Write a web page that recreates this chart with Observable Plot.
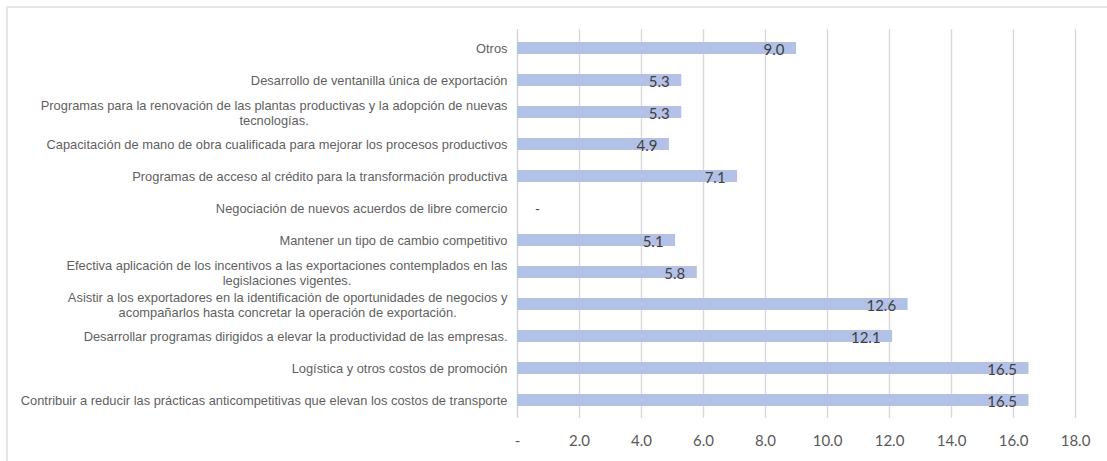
<!DOCTYPE html>
<html>
<head>
<meta charset="utf-8">
<script src="https://cdn.jsdelivr.net/npm/d3@7"></script>
<script src="https://cdn.jsdelivr.net/npm/@observablehq/plot@0.6"></script>
<style>
  html, body { margin: 0; padding: 0; background: #fff; }
  #wrap { position: relative; width: 1107px; height: 461px; overflow: hidden; }
  #frame { position: absolute; left: 6px; top: 6px; right: 0; bottom: 0;
           border-top: 2px solid #e6e6e6; border-left: 2px solid #e6e6e6; pointer-events: none; }
  #chart { position: absolute; left: 0; top: 0; }
</style>
</head>
<body>
<div id="wrap"><div id="chart"></div><div id="frame"></div></div>
<script>
const categories = [
  "Otros",
  "Desarrollo de ventanilla única de exportación",
  "Programas para la renovación de las plantas productivas y la adopción de nuevas\ntecnologías.",
  "Capacitación de mano de obra cualificada para mejorar los procesos productivos",
  "Programas de acceso al crédito para la transformación productiva",
  "Negociación de nuevos acuerdos de libre comercio",
  "Mantener un tipo de cambio competitivo",
  "Efectiva aplicación de los incentivos a las exportaciones contemplados en las\nlegislaciones vigentes.",
  "Asistir a los exportadores en la identificación de oportunidades de negocios y\nacompañarlos hasta concretar la operación de exportación.",
  "Desarrollar programas dirigidos a elevar la productividad de las empresas.",
  "Logística y otros costos de promoción",
  "Contribuir a reducir las prácticas anticompetitivas que elevan los costos de transporte"
];
const values = [9.0, 5.3, 5.3, 4.9, 7.1, 0, 5.1, 5.8, 12.6, 12.1, 16.5, 16.5];
const xTicks = [0, 2, 4, 6, 8, 10, 12, 14, 16, 18];

const data = categories.map((c, i) => ({cat: c, value: values[i]}));

const catFont = "Liberation Sans";
const ctx = document.createElement("canvas").getContext("2d");
ctx.font = `11px "${catFont}"`;
// size chosen so that the longest label spans the same width as in the reference (~487px)
const catSize = Math.min(13.2, 11 * 487 / ctx.measureText(categories[11]).width);
ctx.font = `${catSize}px "${catFont}"`;
const lineW = s => Math.max(...s.split("\n").map(l => ctx.measureText(l).width));

const single = data.filter(d => !d.cat.includes("\n"));
const multi = data.filter(d => d.cat.includes("\n"));
const gap = 10;

const catStyle = {fontSize: catSize, fontFamily: catFont, fill: "#5f5f5f"};

const marks = [
  Plot.gridX(xTicks.filter(d => d > 0), {stroke: "#d9d9d9", strokeOpacity: 1, strokeWidth: 1.4}),
  Plot.ruleX([0], {stroke: "#d4d4d4", strokeWidth: 1.4}),
  Plot.barX(data, {x: "value", y: "cat", fill: "#b4c1e6"}),
  Plot.text(data.filter(d => d.value > 0), {
    x: "value", y: "cat", text: d => d.value.toFixed(1),
    textAnchor: "end", dx: -12, dy: 2, fontSize: 15, fontFamily: "Lato", fill: "#404040"
  }),
  Plot.text(data.filter(d => d.value === 0), {
    x: "value", y: "cat", text: () => "-",
    textAnchor: "middle", dx: 20, dy: 1, fontSize: 13, fontFamily: "Lato", fill: "#404040"
  }),
  Plot.text(single, {y: "cat", text: "cat", frameAnchor: "left", textAnchor: "end", dx: -gap, ...catStyle}),
  ...multi.map(d => Plot.text([d], {
    y: "cat", text: "cat", frameAnchor: "left", textAnchor: "middle",
    dx: -gap - lineW(d.cat) / 2, lineHeight: 1.15, ...catStyle
  }))
];

const chart = Plot.plot({
  width: 1107,
  height: 461,
  marginTop: 29,
  marginBottom: 43,
  marginLeft: 517,
  marginRight: 32,
  style: {fontFamily: "Lato", fontSize: "15px", color: "#595959", background: "transparent"},
  x: {domain: [0, 18], ticks: xTicks, tickFormat: d => d === 0 ? "-" : d.toFixed(1), tickSize: 0, tickPadding: 17, label: null},
  y: {domain: categories, paddingInner: 0.64, paddingOuter: 0.32, axis: null},
  marks
});
document.getElementById("chart").appendChild(chart);
</script>
</body>
</html>
